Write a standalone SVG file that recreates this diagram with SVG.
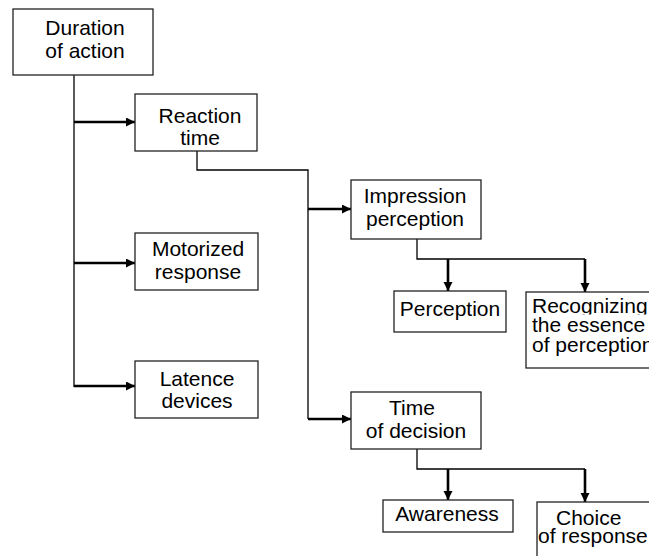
<svg xmlns="http://www.w3.org/2000/svg" width="649" height="556" viewBox="0 0 649 556">
  <style>
    .box { fill: #ffffff; stroke: #222222; stroke-width: 1.3; }
    .lbl { font-family: "Liberation Sans", Arial, sans-serif; font-size: 21px; fill: #000000; }
    .mid { text-anchor: middle; }
    .thin { fill: none; stroke: #000000; stroke-width: 1.3; }
    .arrow { fill: none; stroke: #000000; stroke-width: 2.6; marker-end: url(#head); }
  </style>
  <defs>
    <marker id="head" markerUnits="userSpaceOnUse" markerWidth="10" markerHeight="10" refX="9" refY="4.5" orient="auto">
      <path d="M0,0 L9,4.5 L0,9 z" fill="#000000"/>
    </marker>
    <!-- the top line of the cramped box loses its descenders under the next line -->
    <clipPath id="firstLine">
      <rect x="520" y="290" width="140" height="24.5"/>
    </clipPath>
  </defs>
  <rect width="649" height="556" fill="#ffffff"/>

  <g id="connectors">
    <path class="thin" d="M74,75 V387"/>
    <path class="arrow" d="M74,122 H135"/>
    <path class="arrow" d="M74,263 H135"/>
    <path class="arrow" d="M74,386 H135"/>
    <path class="thin" d="M197,151 V170 H308 V419"/>
    <path class="arrow" d="M308,209 H351"/>
    <path class="arrow" d="M308,419 H351"/>
    <path class="thin" d="M417,239 V259 H585"/>
    <path class="arrow" d="M448,259 V291"/>
    <path class="arrow" d="M585,259 V292"/>
    <path class="thin" d="M417,449 V469 H585"/>
    <path class="arrow" d="M448,469 V500"/>
    <path class="arrow" d="M585,469 V502"/>
  </g>

  <g id="duration">
    <rect class="box" x="13" y="9" width="140" height="66"/>
    <text class="lbl mid" x="85" y="35">Duration</text>
    <text class="lbl mid" x="85" y="58">of action</text>
  </g>

  <g id="reaction">
    <rect class="box" x="135" y="94" width="122" height="57"/>
    <text class="lbl mid" x="200" y="123">Reaction</text>
    <text class="lbl mid" x="200" y="145">time</text>
  </g>

  <g id="motorized">
    <rect class="box" x="135" y="233" width="123" height="57"/>
    <text class="lbl mid" x="198" y="256">Motorized</text>
    <text class="lbl mid" x="198" y="279">response</text>
  </g>

  <g id="latence">
    <rect class="box" x="135" y="361" width="123" height="57"/>
    <text class="lbl mid" x="197" y="386">Latence</text>
    <text class="lbl mid" x="197" y="408">devices</text>
  </g>

  <g id="impression">
    <rect class="box" x="351" y="180" width="130" height="59"/>
    <text class="lbl mid" x="415" y="203">Impression</text>
    <text class="lbl mid" x="415" y="226">perception</text>
  </g>

  <g id="perception">
    <rect class="box" x="394" y="291" width="112" height="41"/>
    <text class="lbl mid" x="450" y="316">Perception</text>
  </g>

  <g id="recognizing">
    <rect class="box" x="526" y="292" width="140" height="76"/>
    <text class="lbl" x="532" y="313" clip-path="url(#firstLine)">Recognizing</text>
    <text class="lbl" x="532" y="332">the essence</text>
    <text class="lbl" x="532" y="352">of perception</text>
  </g>

  <g id="decision">
    <rect class="box" x="351" y="392" width="130" height="57"/>
    <text class="lbl mid" x="412" y="415">Time</text>
    <text class="lbl mid" x="416" y="438">of decision</text>
  </g>

  <g id="awareness">
    <rect class="box" x="383" y="500" width="130" height="32"/>
    <text class="lbl mid" x="447" y="521">Awareness</text>
  </g>

  <g id="choice">
    <rect class="box" x="537" y="502" width="130" height="70"/>
    <text class="lbl" x="556" y="525">Choice</text>
    <text class="lbl" x="538" y="543">of response</text>
  </g>
</svg>
